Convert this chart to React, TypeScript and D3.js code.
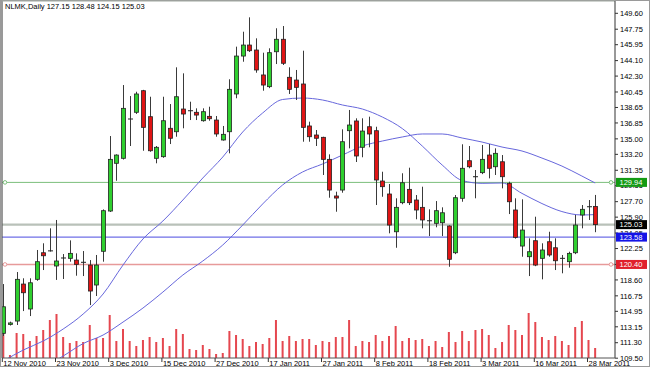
import React from "react";
import * as d3 from "d3";

// NLMK daily candles, 12 Nov 2010 .. 29 Mar 2011
const symbolTitle = "NLMK,Daily";
const opens = [
  112.39, 113.45, 113.82, 118.12, 115.22, 118.67, 121.76, 121.98, 120.22, 121.15,
  121.11, 120.91, 120.65, 120.33, 118.01, 121.93, 126.61, 132.16, 132.74, 137.31,
  138.09, 140.6, 137.58, 132.74, 132.93, 136.23, 135.83, 138.47, 138.27, 138.09,
  137.11, 137.62, 137.19, 134.87, 135.83, 140.22, 144.63, 145.91, 145.33, 142.43,
  141.07, 145.13, 146.58, 142.16, 141.84, 141.38, 136.5, 135.45, 135.18, 132.62,
  128.36, 129.05, 135.95, 137.08, 134.02, 136.41, 135.95, 130.1, 128.59, 124.2,
  127.58, 129.13, 127.89, 127.04, 125.48, 125.18, 125.25, 124.87, 121.76, 128.09,
  132.46, 130.6, 131.07, 133.12, 131.76, 132.34, 129.83, 126.73, 122.54, 121.3,
  123.16, 121.11, 123.04, 122.34, 121.11, 120.72, 121.76, 126.15, 127.11, 127.15,
];
const highs = [
  118.12, 113.75, 119.52, 118.79, 118.79, 122.08, 122.86, 124.6, 125.57, 121.61,
  123.2, 121.69, 121.96, 120.91, 121.5, 126.8, 135.33, 133.2, 141.26, 139.98,
  140.48, 140.7, 139.9, 134.17, 139.9, 139.05, 143.32, 142.62, 139.32, 138.55,
  138.55, 138.74, 137.66, 136.5, 141.93, 145.72, 147.46, 149.13, 146.69, 145.02,
  145.53, 147.86, 148.12, 143.32, 143.01, 145.25, 137.0, 136.03, 135.25, 133.2,
  128.86, 136.11, 138.36, 137.39, 137.39, 137.58, 136.41, 131.18, 129.75, 128.09,
  131.0, 131.65, 128.47, 129.44, 126.81, 127.77, 127.04, 124.95, 128.47, 134.37,
  134.17, 131.38, 134.29, 134.4, 133.9, 133.12, 130.02, 128.09, 127.97, 123.44,
  125.95, 122.86, 124.2, 123.44, 121.5, 121.88, 126.15, 127.31, 127.89, 128.48,
];
const lows = [
  112.08, 113.3, 113.36, 114.98, 114.4, 118.5, 119.75, 121.9, 118.6, 118.71,
  120.72, 119.09, 119.05, 115.68, 116.73, 120.72, 126.5, 130.13, 132.6, 134.17,
  137.9, 133.62, 133.5, 132.16, 132.8, 134.4, 135.25, 136.23, 137.19, 137.19,
  137.0, 137.11, 135.25, 134.8, 133.32, 139.72, 143.97, 145.1, 142.69, 140.6,
  140.9, 143.7, 143.59, 140.22, 139.52, 134.67, 134.67, 134.17, 130.8, 128.16,
  126.53, 128.74, 133.9, 132.31, 132.86, 134.02, 127.31, 128.27, 124.02, 122.34,
  127.4, 127.31, 125.65, 124.6, 123.7, 124.72, 123.7, 120.13, 121.6, 127.69,
  131.58, 128.09, 130.9, 130.41, 130.8, 129.25, 126.26, 123.4, 121.3, 119.05,
  120.2, 118.67, 121.3, 119.75, 119.37, 120.02, 121.6, 124.6, 125.57, 124.15,
];
const closes = [
  115.48, 113.6, 118.67, 117.11, 118.27, 120.72, 121.41, 121.98, 120.8, 121.15,
  121.69, 120.41, 120.65, 117.31, 120.33, 126.65, 132.62, 133.12, 138.55, 137.31,
  140.22, 136.34, 133.62, 134.02, 137.11, 135.07, 139.9, 137.89, 138.27, 137.77,
  138.16, 137.34, 135.57, 135.53, 140.76, 144.63, 145.91, 145.25, 143.01, 141.26,
  145.02, 146.58, 143.79, 140.76, 140.99, 136.34, 135.25, 135.07, 132.62, 129.05,
  128.12, 134.67, 136.61, 133.01, 135.91, 135.57, 130.22, 129.44, 124.98, 127.04,
  129.9, 127.58, 126.73, 125.57, 125.48, 126.65, 126.41, 121.0, 128.16, 131.58,
  131.76, 130.6, 132.62, 131.58, 133.32, 130.6, 127.69, 123.55, 124.4, 121.88,
  120.33, 122.08, 121.5, 120.83, 121.11, 121.69, 124.98, 126.81, 127.11, 125.03,
];
const volumes = [
  34, 3, 25, 24, 17, 22, 28, 38, 44, 21,
  15, 17, 16, 33, 20, 20, 43, 17, 29, 17,
  12, 18, 21, 16, 20, 12, 29, 24, 9, 8,
  13, 9, 4, 5, 27, 23, 19, 12, 16, 14,
  20, 38, 17, 22, 17, 19, 19, 13, 17, 16,
  21, 21, 38, 12, 17, 16, 23, 17, 22, 32,
  17, 20, 18, 19, 12, 17, 11, 26, 16, 27,
  17, 28, 29, 23, 10, 16, 33, 28, 23, 45,
  36, 21, 18, 22, 17, 13, 31, 37, 18, 10,
];

// moving averages read at sample bars
const fastBars = [0, 3, 6, 9, 12, 15, 18, 21, 24, 27, 30, 33, 36, 39, 42, 45, 48, 51, 54, 57, 60, 63, 66, 69, 72, 75, 78, 81, 84, 87, 89];
const fastMA = [
  109.17, 110.45, 111.5, 112.89, 114.63, 116.96, 120.33, 123.36, 125.45, 127.89,
  130.45, 132.89, 135.8, 138.01, 139.58, 139.75, 139.52, 138.94, 138.47, 137.54,
  136.2, 134.17, 131.96, 130.16, 129.83, 129.87, 128.66, 127.48, 126.55, 126.15, 126.2,
];
const slowBars = [6, 9, 12, 15, 18, 21, 24, 27, 30, 33, 36, 39, 42, 45, 48, 51, 54, 57, 60, 63, 66, 69, 72, 75, 78, 81, 84, 87, 89];
const slowMA = [
  108.38, 109.75, 111.2, 112.19, 113.7, 115.33, 117.19, 119.17, 120.8, 122.66,
  124.98, 127.43, 129.64, 131.15, 132.08, 133.12, 134.17, 134.75, 135.22, 135.57,
  135.57, 135.1, 134.63, 134.05, 133.59, 132.77, 131.84, 130.68, 129.87,
];

const levelValues = [129.94, 125.03, 123.58, 120.4];
const priceTicks = [
  149.6, 147.75, 145.95, 144.1, 142.3, 140.45, 138.65, 136.85, 135.0, 133.2, 131.35, 129.55,
  127.7, 125.9, 124.05, 122.25, 120.4, 118.6, 116.75, 114.95, 113.15, 111.3, 109.5,
];
const dateLabels = [
  "12 Nov 2010", "23 Nov 2010", "3 Dec 2010", "15 Dec 2010", "27 Dec 2010", "17 Jan 2011",
  "27 Jan 2011", "8 Feb 2011", "18 Feb 2011", "3 Mar 2011", "16 Mar 2011", "28 Mar 2011",
];
const labelStep = 8;

const W = 650;
const H = 367;
const left = 2;
const right = 615;
const top = 1;
const bottom = 358;
const font = "'Liberation Sans', Arial, sans-serif";

const levelStyle = [
  { line: "#7cbf7c", width: 1, box: "#139a13", mark: true },
  { line: "#b9c1b9", width: 2.2, box: "#000000", mark: false },
  { line: "#4b4be0", width: 1, box: "#1414e6", mark: false },
  { line: "#e79a9a", width: 1.4, box: "#e0202c", mark: true },
];

export default function App() {
  const n = closes.length;
  const x = d3.scaleLinear().domain([0, n - 1]).range([3.3, 3.3 + 6.65 * (n - 1)]);
  const y = d3.scaleLinear().domain([109.5, 149.6]).range([358.2, 13.3]);
  const yVol = d3.scaleLinear().domain([0, 50]).range([bottom, bottom - 50]);

  const maLine = d3
    .line<number>()
    .x((_, k) => 0)
    .y((d) => y(d))
    .curve(d3.curveMonotoneX);

  const fastPath = d3
    .line<number>()
    .x((_, k) => x(fastBars[k]))
    .y((d) => y(d))
    .curve(d3.curveMonotoneX)(fastMA);
  const slowPath = d3
    .line<number>()
    .x((_, k) => x(slowBars[k]))
    .y((d) => y(d))
    .curve(d3.curveMonotoneX)(slowMA);
  void maLine;

  const bodyW = 4;

  return (
    <svg
      width={W}
      height={H}
      style={{ position: "absolute", left: 0, top: 0, background: "#fff" }}
      fontFamily={font}
    >
      <defs>
        <clipPath id="plot">
          <rect x={left} y={top} width={right - left} height={bottom - top} />
        </clipPath>
      </defs>
      <rect x={0} y={0} width={W} height={H} fill="#fff" />
      <rect x={0.5} y={0.5} width={W - 1} height={H - 1} fill="none" stroke="#9a9a9a" />

      {/* title */}
      <text x={5} y={8.5} fontSize={7.5} fill="#000">
        {symbolTitle}
        {"  "}
        {`${opens[n - 1].toFixed(2)} ${highs[n - 1].toFixed(2)} ${lows[n - 1].toFixed(2)} ${closes[n - 1].toFixed(2)}`}
      </text>

      <g clipPath="url(#plot)">
        {/* volumes */}
        {volumes.map((v, i) => (
          <rect key={"v" + i} x={x(i) - 1} y={yVol(v)} width={2} height={bottom - yVol(v)} fill="#e5474f" />
        ))}

        {/* horizontal levels */}
        {levelValues.map((v, k) => (
          <g key={"l" + k}>
            <line x1={left} x2={right} y1={y(v)} y2={y(v)} stroke={levelStyle[k].line} strokeWidth={levelStyle[k].width} />
            {levelStyle[k].mark && (
              <>
                <circle cx={5} cy={y(v)} r={1.8} fill="#fff" stroke={levelStyle[k].line} strokeWidth={1} />
                <circle cx={611} cy={y(v)} r={1.8} fill="#fff" stroke={levelStyle[k].line} strokeWidth={1} />
              </>
            )}
          </g>
        ))}

        {/* moving averages */}
        <path d={fastPath || ""} fill="none" stroke="#6767dc" strokeWidth={1} />
        <path d={slowPath || ""} fill="none" stroke="#6767dc" strokeWidth={1} />

        {/* candles */}
        {closes.map((c, i) => {
          const o = opens[i];
          const cx = Math.round(x(i)) + 0.5;
          const up = c > o;
          const doji = Math.abs(c - o) < 0.02;
          const yTop = y(Math.max(o, c));
          const yBot = y(Math.min(o, c));
          return (
            <g key={"c" + i}>
              <line x1={cx} x2={cx} y1={y(highs[i])} y2={y(lows[i])} stroke="#3a3a3a" strokeWidth={1} />
              {doji ? (
                <line x1={cx - 2.5} x2={cx + 2.5} y1={yTop} y2={yTop} stroke="#222" strokeWidth={1} />
              ) : (
                <rect
                  x={cx - bodyW / 2}
                  y={yTop}
                  width={bodyW}
                  height={Math.max(1.5, yBot - yTop)}
                  fill={up ? "#2fcf2f" : "#e01414"}
                  stroke="#222"
                  strokeWidth={0.8}
                />
              )}
            </g>
          );
        })}
      </g>

      {/* plot frame */}
      <line x1={left} x2={left} y1={top} y2={bottom} stroke="#555" strokeWidth={1.2} />
      <line x1={left} x2={right} y1={top} y2={top} stroke="#a0a8a0" strokeWidth={1} />
      <line x1={right} x2={right} y1={top} y2={bottom} stroke="#333" strokeWidth={1} />
      <line x1={left} x2={right} y1={bottom} y2={bottom} stroke="#555" strokeWidth={1} />

      {/* price axis */}
      {priceTicks.map((t) => (
        <g key={"t" + t}>
          <line x1={right} x2={right + 3} y1={y(t)} y2={y(t)} stroke="#333" />
          <text x={620} y={y(t) + 2.7} fontSize={7.5} fill="#000">
            {t.toFixed(2)}
          </text>
        </g>
      ))}
      {levelValues.map((v, k) => (
        <g key={"b" + k}>
          <rect x={616} y={y(v) - 4.5} width={31} height={9} fill={levelStyle[k].box} />
          <text x={619.5} y={y(v) + 2.7} fontSize={7.5} fill="#fff">
            {v.toFixed(2)}
          </text>
        </g>
      ))}

      {/* date axis */}
      {dateLabels.map((d, k) => {
        const px = x(k * labelStep);
        return (
          <g key={"d" + k}>
            <line x1={px - 1} x2={px - 1} y1={bottom} y2={bottom + 4} stroke="#333" />
            <text x={px} y={365.5} fontSize={7.5} fill="#000">
              {d}
            </text>
          </g>
        );
      })}
    </svg>
  );
}
